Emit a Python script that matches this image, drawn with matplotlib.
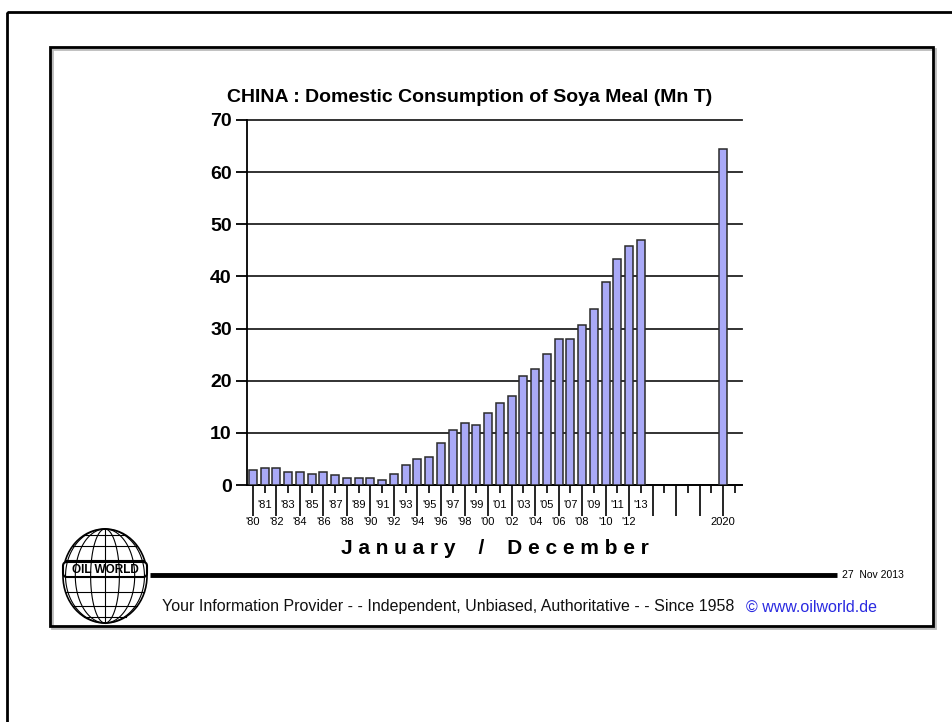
import numpy as np
import matplotlib.pyplot as plt
from matplotlib.patches import Rectangle, Ellipse, FancyBboxPatch

# data (Mn T)
years = [1980, 1981, 1982, 1983, 1984, 1985, 1986, 1987, 1988, 1989, 1990,
         1991, 1992, 1993, 1994, 1995, 1996, 1997, 1998, 1999, 2000, 2001,
         2002, 2003, 2004, 2005, 2006, 2007, 2008, 2009, 2010, 2011, 2012,
         2013, 2020]
consumption = [2.85, 3.35, 3.35, 2.5, 2.5, 2.2, 2.5, 2.0, 1.3, 1.3, 1.3,
               0.95, 2.2, 3.8, 4.9, 5.4, 8.0, 10.6, 11.8, 11.6, 13.8, 15.8,
               17.1, 21.0, 22.3, 25.2, 28.0, 28.0, 30.6, 33.7, 38.9, 43.3, 45.9,
               47.0, 64.5]

even_years = list(range(1980, 2021, 2))
odd_years = list(range(1981, 2022, 2))
even_labels = ["'%02d" % (y % 100) if y <= 2012 else ('2020' if y == 2020 else '') for y in even_years]
odd_labels = ["'%02d" % (y % 100) if y <= 2013 else '' for y in odd_years]

W, H = 953, 722
narrow = ['Liberation Sans Narrow', 'Liberation Sans', 'DejaVu Sans']
plt.rcParams['font.family'] = ['Liberation Sans', 'DejaVu Sans']

fig = plt.figure(figsize=(W / 100, H / 100), dpi=100)

# background overlay in pixel coordinates
bg = fig.add_axes([0, 0, 1, 1])
bg.set_xlim(0, W)
bg.set_ylim(H, 0)
bg.axis('off')

# outer and inner frames
bg.add_patch(Rectangle((7, 12), W + 20, H + 20, fill=False, ec='black', lw=2))
bg.add_patch(Rectangle((52, 49), 883, 579, fill=False, ec='#bbbbbb', lw=2))
bg.add_patch(Rectangle((50, 47), 883, 579, fill=False, ec='black', lw=2))

# globe logo
cx, cy, a, b = 105, 576, 42, 47
bg.add_patch(Ellipse((cx, cy), 2 * a, 2 * b, fill=False, ec='black', lw=1.2))
t = np.linspace(-np.pi / 2, np.pi / 2, 60)
for lon in np.radians([-70, -45, -20, 0, 20, 45, 70]):
    bg.plot(cx + a * np.sin(lon) * np.cos(t), cy - b * np.sin(t), color='black', lw=0.8)
for lat in np.radians([-60, -40, -20, 20, 40, 60]):
    hw = a * np.cos(lat)
    bg.plot([cx - hw, cx + hw], [cy - b * np.sin(lat)] * 2, color='black', lw=0.8)
bg.add_patch(FancyBboxPatch((63, 562), 84, 15, boxstyle='round,pad=0,rounding_size=4',
                            fc='white', ec='black', lw=1.5))
bg.text(105, 570, 'OIL WORLD', ha='center', va='center', fontsize=8.5,
        fontweight='bold', family=['Liberation Sans', 'DejaVu Sans'])

# footer
bg.plot([150, 837], [575, 575], color='black', lw=3.5, solid_capstyle='butt')
bg.text(842, 575, '27  Nov 2013', ha='left', va='center', fontsize=7.5, family=narrow)
bg.text(162, 607, 'Your Information Provider - - Independent, Unbiased, Authoritative - - Since 1958',
        ha='left', va='center', fontsize=11.5, family=narrow, color='#111111')
bg.text(746, 607, '\u00a9 www.oilworld.de', ha='left', va='center', fontsize=11.5,
        family=narrow, color='#2a2ae0')

# main chart
ax = fig.add_axes([247 / W, 1 - 485 / H, (742 - 247) / W, (485 - 120) / H])
ax.bar(years, consumption, width=0.68, color='#a9a9f7', edgecolor='#2b2b2b', lw=1.1, zorder=3)
ax.set_xlim(1979.5, 2021.6)
ax.set_ylim(0, 70)
ax.set_yticks(range(0, 71, 10))
ax.yaxis.grid(True, color='#222222', lw=1.3, zorder=1)
for gl in ax.get_ygridlines():
    gl.set_clip_on(False)
ax.tick_params(axis='y', length=8, width=1.3, pad=3, labelsize=14)
for lab in ax.get_yticklabels():
    lab.set_fontweight('bold')

ax.set_xticks(even_years, labels=even_labels)
ax.set_xticks(odd_years, labels=odd_labels, minor=True)
ax.tick_params(axis='x', which='major', length=22, width=1.2, pad=1, labelsize=8)
ax.tick_params(axis='x', which='minor', length=5.5, width=1.2, pad=5, labelsize=8)
for lab in ax.get_xticklabels(which='both'):
    lab.set_family(narrow)

for s in ['top', 'right']:
    ax.spines[s].set_visible(False)
ax.spines['left'].set_linewidth(1.3)
ax.spines['bottom'].set_linewidth(1.3)

fig.text(470 / W, 1 - 97 / H, 'CHINA : Domestic Consumption of Soya Meal (Mn T)',
         ha='center', va='center', fontsize=14, fontweight='bold')
fig.text(495 / W, 1 - 548 / H, 'J a n u a r y    /    D e c e m b e r',
         ha='center', va='center', fontsize=15, fontweight='bold')

fig.savefig('out.png', dpi=100)
